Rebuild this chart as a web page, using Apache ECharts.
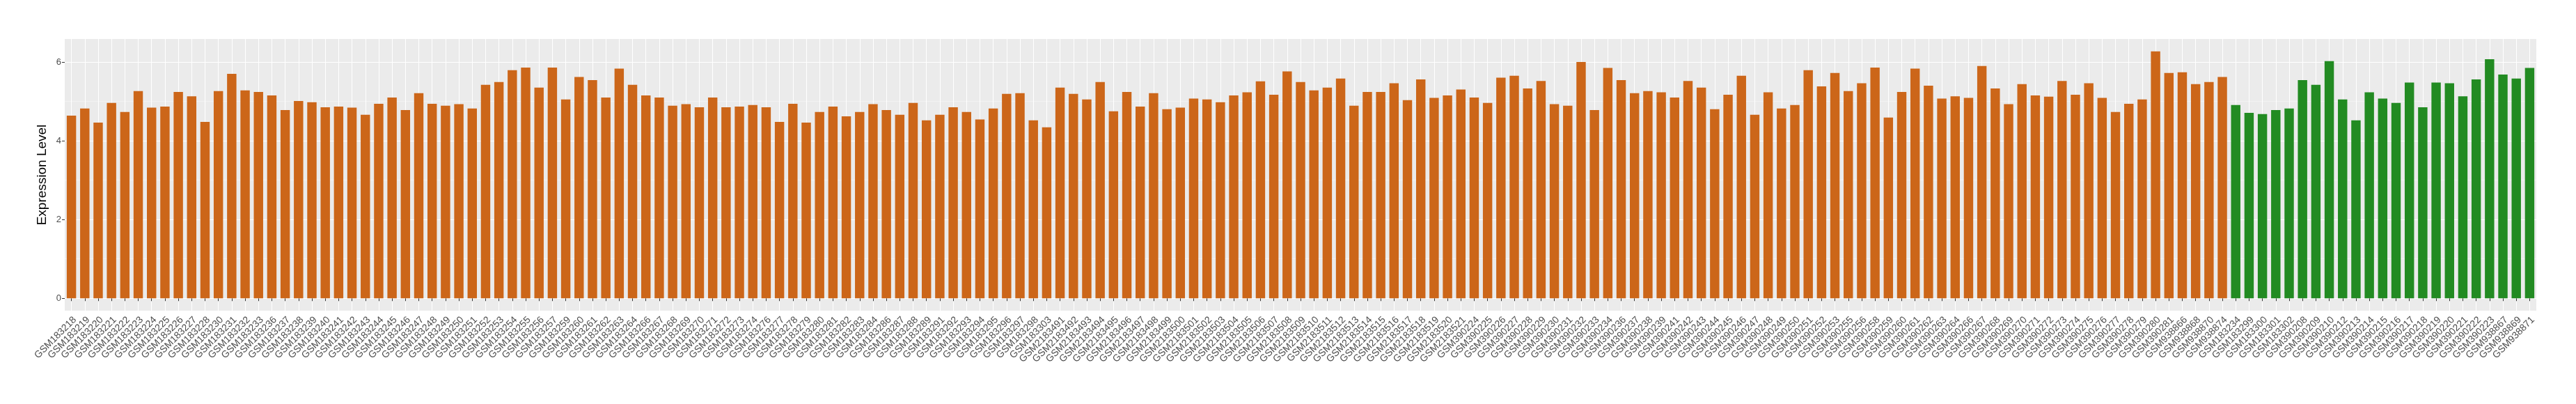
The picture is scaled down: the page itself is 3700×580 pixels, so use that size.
<!DOCTYPE html>
<html>
<head>
<meta charset="utf-8">
<script src="https://cdn.jsdelivr.net/npm/echarts@6/dist/echarts.min.js"></script>
<style>
html,body{margin:0;padding:0;background:#fff;}
#chart{width:3700px;height:580px;}
</style>
</head>
<body>
<div id="chart"></div>
<script>
// ---- data ----
const orangeCategories = [
"GSM183218","GSM183219","GSM183220","GSM183221","GSM183222","GSM183223","GSM183224","GSM183225","GSM183226","GSM183227",
"GSM183228","GSM183230","GSM183231","GSM183232","GSM183233","GSM183236","GSM183237","GSM183238","GSM183239","GSM183240",
"GSM183241","GSM183242","GSM183243","GSM183244","GSM183245","GSM183246","GSM183247","GSM183248","GSM183249","GSM183250",
"GSM183251","GSM183252","GSM183253","GSM183254","GSM183255","GSM183256","GSM183257","GSM183259","GSM183260","GSM183261",
"GSM183262","GSM183263","GSM183264","GSM183266","GSM183267","GSM183268","GSM183269","GSM183270","GSM183271","GSM183272",
"GSM183273","GSM183274","GSM183276","GSM183277","GSM183278","GSM183279","GSM183280","GSM183281","GSM183282","GSM183283",
"GSM183284","GSM183286","GSM183287","GSM183288","GSM183289","GSM183291","GSM183292","GSM183293","GSM183294","GSM183295",
"GSM183296","GSM183297","GSM183298","GSM183303",
"GSM2183491","GSM2183492","GSM2183493","GSM2183494","GSM2183495","GSM2183496","GSM2183497","GSM2183498","GSM2183499","GSM2183500",
"GSM2183501","GSM2183502","GSM2183503","GSM2183504","GSM2183505","GSM2183506","GSM2183507","GSM2183508","GSM2183509","GSM2183510",
"GSM2183511","GSM2183512","GSM2183513","GSM2183514","GSM2183515","GSM2183516","GSM2183517","GSM2183518","GSM2183519","GSM2183520",
"GSM2183521",
"GSM390224","GSM390225","GSM390226","GSM390227","GSM390228","GSM390229","GSM390230","GSM390231","GSM390232","GSM390233",
"GSM390234","GSM390236","GSM390237","GSM390238","GSM390239","GSM390241","GSM390242","GSM390243","GSM390244","GSM390245",
"GSM390246","GSM390247","GSM390248","GSM390249","GSM390250","GSM390251","GSM390252","GSM390253","GSM390255","GSM390256",
"GSM390258","GSM390259","GSM390260","GSM390261","GSM390262","GSM390263","GSM390264","GSM390266","GSM390267","GSM390268",
"GSM390269","GSM390270","GSM390271","GSM390272","GSM390273","GSM390274","GSM390275","GSM390276","GSM390277","GSM390278",
"GSM390279","GSM390280","GSM390281",
"GSM938866","GSM938868","GSM938870","GSM938874"
];
const orangeValues = [
4.64,4.82,4.46,4.96,4.73,5.26,4.84,4.87,5.24,5.13,
4.48,5.26,5.70,5.28,5.24,5.15,4.78,5.01,4.98,4.85,
4.87,4.84,4.66,4.94,5.10,4.78,5.21,4.94,4.89,4.93,
4.82,5.42,5.49,5.79,5.86,5.35,5.86,5.05,5.62,5.54,
5.10,5.83,5.42,5.15,5.10,4.89,4.93,4.85,5.10,4.85,
4.87,4.91,4.85,4.48,4.94,4.46,4.73,4.87,4.62,4.73,
4.93,4.78,4.66,4.96,4.52,4.66,4.85,4.73,4.54,4.82,
5.19,5.21,4.52,4.34,
5.35,5.19,5.05,5.49,4.75,5.24,4.87,5.21,4.80,4.84,
5.07,5.05,4.98,5.15,5.23,5.51,5.17,5.76,5.49,5.28,
5.35,5.58,4.89,5.24,5.24,5.46,5.03,5.56,5.09,5.15,
5.30,
5.10,4.96,5.60,5.65,5.33,5.52,4.93,4.89,6.00,4.78,
5.85,5.54,5.21,5.26,5.23,5.10,5.52,5.35,4.80,5.17,
5.65,4.66,5.23,4.82,4.91,5.79,5.38,5.72,5.26,5.46,
5.86,4.59,5.24,5.83,5.40,5.07,5.13,5.09,5.90,5.33,
4.93,5.44,5.15,5.12,5.52,5.17,5.46,5.09,4.73,4.94,
5.05,6.27,5.72,
5.74,5.44,5.49,5.62
];
const greenCategories = [
"GSM183234","GSM183299","GSM183300","GSM183301","GSM183302",
"GSM390208","GSM390209","GSM390210","GSM390212","GSM390213","GSM390214","GSM390215","GSM390216",
"GSM390217","GSM390218","GSM390219","GSM390220","GSM390221","GSM390222","GSM390223",
"GSM938867","GSM938869","GSM938871"
];
const greenValues = [
4.91,4.71,4.68,4.78,4.82,
5.54,5.42,6.02,5.05,4.52,5.23,5.07,4.96,
5.48,4.85,5.48,5.46,5.13,5.56,6.07,
5.68,5.58,5.85
];
const yMajorTicks = [0, 2, 4, 6];
const yMinorTicks = [1, 3, 5];
const yTitle = "Expression Level";

// ---- build ----
const categories = orangeCategories.concat(greenCategories);
const orangeData = orangeValues.concat(greenValues.map(() => null));
const greenData = orangeValues.map(() => null).concat(greenValues);
const dataMax = Math.max(...orangeValues, ...greenValues);
const yMin = -0.05 * dataMax;
const yMax = dataMax * 1.05;

const FONT = "'Liberation Sans', Arial, Helvetica, sans-serif";
const chart = echarts.init(document.getElementById('chart'), null, {renderer: 'canvas'});
chart.setOption({
  animation: false,
  backgroundColor: '#ffffff',
  grid: {
    left: 93, right: 57, top: 56, bottom: 134,
    show: true, backgroundColor: '#EBEBEB', borderWidth: 0
  },
  xAxis: {
    type: 'category',
    data: categories,
    boundaryGap: true,
    axisLine: {show: false},
    axisTick: {show: true, alignWithLabel: true, interval: 0, length: 4, lineStyle: {color: '#333333', width: 1}},
    splitLine: {show: true, alignWithLabel: true, interval: 0, lineStyle: {color: '#ffffff', width: 1}},
    axisLabel: {
      interval: 0, rotate: 45, margin: 6,
      align: 'right', verticalAlign: 'top', lineHeight: 14,
      fontSize: 14, color: '#4D4D4D', fontFamily: FONT
    }
  },
  yAxis: [
    {
      type: 'value', min: yMin, max: yMax,
      name: yTitle, nameLocation: 'middle', nameRotate: 90, nameGap: 19,
      nameTextStyle: {fontSize: 19, color: '#000000', fontFamily: FONT},
      axisLine: {show: false},
      axisTick: {show: true, length: 4, customValues: yMajorTicks, lineStyle: {color: '#333333', width: 1}},
      axisLabel: {customValues: yMajorTicks, margin: 5, fontSize: 13, color: '#4D4D4D', fontFamily: FONT},
      splitLine: {show: true, lineStyle: {color: '#ffffff', width: 1.2}}
    },
    {
      type: 'value', min: yMin, max: yMax,
      axisLine: {show: false},
      axisTick: {show: false, customValues: yMinorTicks},
      axisLabel: {show: false, customValues: yMinorTicks},
      splitLine: {show: true, lineStyle: {color: '#F7F7F7', width: 0.7}}
    }
  ],
  series: [
    {
      type: 'bar', name: 'orange', stack: 'all', yAxisIndex: 0,
      data: orangeData, barWidth: '70%',
      itemStyle: {color: '#CC6619'}
    },
    {
      type: 'bar', name: 'green', stack: 'all', yAxisIndex: 0,
      data: greenData, barWidth: '70%',
      itemStyle: {color: '#228B22'}
    }
  ]
});
</script>
</body>
</html>
